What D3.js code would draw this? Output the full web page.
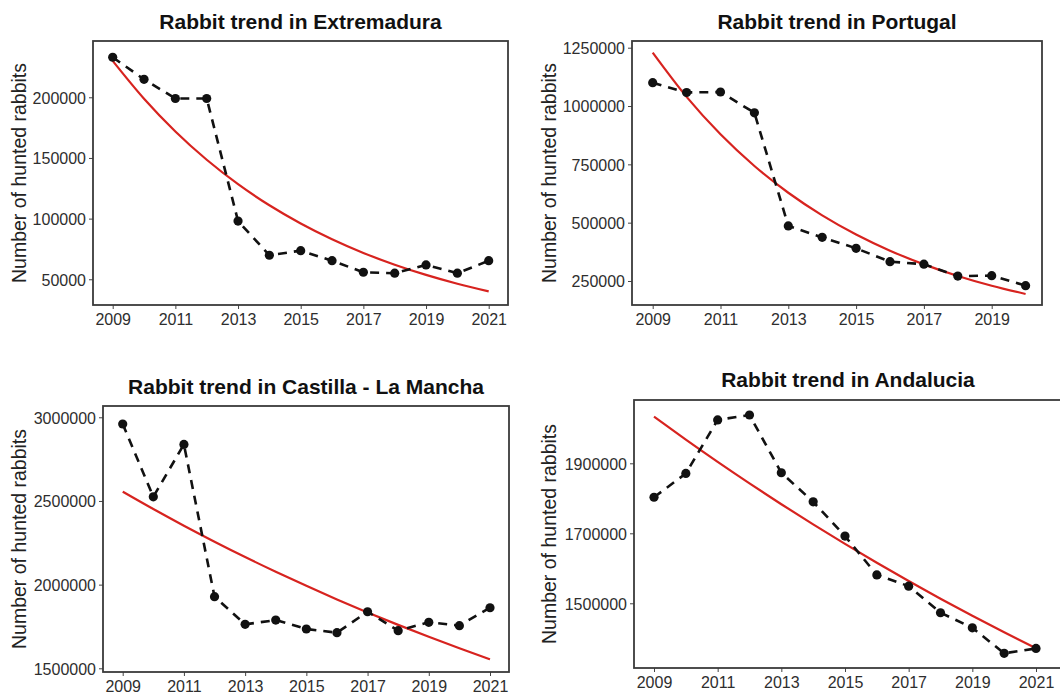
<!DOCTYPE html>
<html>
<head>
<meta charset="utf-8">
<script src="https://cdn.jsdelivr.net/npm/d3@7"></script>
<style>
  html, body { margin: 0; padding: 0; background: #fff; }
  svg { display: block; font-family: "Liberation Sans", Arial, sans-serif; }
</style>
</head>
<body>
<svg id="chart" width="1060" height="695"></svg>
<script>
// Hunted rabbits per year, by region
const yearsSpain = [2009, 2010, 2011, 2012, 2013, 2014, 2015, 2016, 2017, 2018, 2019, 2020, 2021];
const yearsPortugal = [2009, 2010, 2011, 2012, 2013, 2014, 2015, 2016, 2017, 2018, 2019, 2020];

const extremadura = [233000, 214800, 199000, 199000, 98000, 69800, 73600, 65300, 55800, 55000, 61800, 55000, 65300];
const extremaduraTrend = [230000, 198800, 171800, 148500, 128400, 111000, 96000, 83000, 71700, 62000, 53600, 46300, 40000];

const portugal = [1100000, 1058000, 1060000, 971000, 486000, 437000, 390000, 333000, 322000, 271000, 273000, 230000];
const portugalTrend = [1228600, 1039000, 878600, 743000, 628300, 531300, 449300, 380000, 321300, 271700, 229800, 194300];

const castilla = [2960000, 2525000, 2838000, 1928000, 1763000, 1788000, 1735000, 1713000, 1838000, 1725000, 1775000, 1755000, 1862000];
const castillaTrend = [2555400, 2451600, 2352000, 2256500, 2164800, 2077000, 1992600, 1911700, 1834000, 1759600, 1688100, 1619600, 1553800];

const andalucia = [1803000, 1871000, 2024000, 2038000, 1873000, 1790000, 1692000, 1581000, 1549000, 1473000, 1430000, 1357000, 1371000];
const andaluciaTrend = [2033100, 1967500, 1904000, 1842600, 1783100, 1725500, 1669800, 1615900, 1563700, 1513200, 1464400, 1417100, 1371400];

// Tick values
const xTicksSpain = [2009, 2011, 2013, 2015, 2017, 2019, 2021];
const xTicksPortugal = [2009, 2011, 2013, 2015, 2017, 2019];
const yTicksExtremadura = [50000, 100000, 150000, 200000];
const yTicksPortugal = [250000, 500000, 750000, 1000000, 1250000];
const yTicksCastilla = [1500000, 2000000, 2500000, 3000000];
const yTicksAndalucia = [1500000, 1700000, 1900000];

const yTitle = "Number of hunted rabbits";

const panels = [
  { title: "Rabbit trend in Extremadura", years: yearsSpain, values: extremadura, trend: extremaduraTrend,
    xTicks: xTicksSpain, yTicks: yTicksExtremadura,
    box: { x0: 93, x1: 508, y0: 41, y1: 305 }, xr: [2009, 2021, 112.7, 488.7], yd: [28800, 246400],
    titleY: 29, yTitleX: 26 },
  { title: "Rabbit trend in Portugal", years: yearsPortugal, values: portugal, trend: portugalTrend,
    xTicks: xTicksPortugal, yTicks: yTicksPortugal,
    box: { x0: 632, x1: 1042, y0: 41, y1: 305 }, xr: [2009, 2020, 652.7, 1025.6], yd: [147100, 1278700],
    titleY: 29, yTitleX: 556 },
  { title: "Rabbit trend in Castilla - La Mancha", years: yearsSpain, values: castilla, trend: castillaTrend,
    xTicks: xTicksSpain, yTicks: yTicksCastilla,
    box: { x0: 103, x1: 509, y0: 406, y1: 672 }, xr: [2009, 2021, 122.7, 490], yd: [1477900, 3067500],
    titleY: 394, yTitleX: 26 },
  { title: "Rabbit trend in Andalucia", years: yearsSpain, values: andalucia, trend: andaluciaTrend,
    xTicks: xTicksSpain, yTicks: yTicksAndalucia,
    box: { x0: 634, x1: 1062, y0: 400, y1: 668 }, xr: [2009, 2021, 654, 1036], yd: [1315100, 2080900],
    titleY: 387, yTitleX: 556 }
];

const svg = d3.select("#chart");

panels.forEach(p => {
  const b = p.box;
  const x = d3.scaleLinear().domain([p.xr[0], p.xr[1]]).range([p.xr[2], p.xr[3]]);
  const y = d3.scaleLinear().domain(p.yd).range([b.y1, b.y0]);
  const g = svg.append("g");

  // axes
  const xAxis = d3.axisBottom(x).tickValues(p.xTicks).tickFormat(d3.format("d")).tickSize(4).tickPadding(3);
  const yAxis = d3.axisLeft(y).tickValues(p.yTicks).tickFormat(d3.format("d")).tickSize(4).tickPadding(3);

  const gx = g.append("g").attr("transform", `translate(0,${b.y1})`).call(xAxis);
  const gy = g.append("g").attr("transform", `translate(${b.x0},0)`).call(yAxis);
  [gx, gy].forEach(a => {
    a.select(".domain").remove();
    a.selectAll(".tick line").attr("stroke", "#444").attr("stroke-width", 1);
    a.selectAll(".tick text").attr("fill", "#2e2e2e").attr("font-size", 16);
  });
  gx.selectAll(".tick text").attr("dy", "0.82em");
  gy.selectAll(".tick text").attr("dy", "0.36em");

  // trend line
  const line = d3.line().x((d, i) => x(p.years[i])).y(d => y(d)).curve(d3.curveMonotoneX);
  g.append("path").datum(p.trend).attr("d", line)
    .attr("fill", "none").attr("stroke", "#d7231f").attr("stroke-width", 2.2);

  // observed series
  const obs = d3.line().x((d, i) => x(p.years[i])).y(d => y(d));
  g.append("path").datum(p.values).attr("d", obs)
    .attr("fill", "none").attr("stroke", "#111").attr("stroke-width", 2.6)
    .attr("stroke-dasharray", "9,7");
  g.selectAll("circle").data(p.values).join("circle")
    .attr("cx", (d, i) => x(p.years[i])).attr("cy", d => y(d))
    .attr("r", 4.6).attr("fill", "#111");

  // panel border
  g.append("rect").attr("x", b.x0).attr("y", b.y0)
    .attr("width", b.x1 - b.x0).attr("height", b.y1 - b.y0)
    .attr("fill", "none").attr("stroke", "#3a3a3a").attr("stroke-width", 1.8);

  // titles
  g.append("text").attr("x", (b.x0 + b.x1) / 2).attr("y", p.titleY)
    .attr("text-anchor", "middle").attr("font-size", 21).attr("font-weight", "bold")
    .attr("fill", "#111").text(p.title);
  g.append("text")
    .attr("transform", `translate(${p.yTitleX},${(b.y0 + b.y1) / 2}) rotate(-90)`)
    .attr("text-anchor", "middle").attr("font-size", 19.5).attr("fill", "#222").text(yTitle);
});
</script>
</body>
</html>
